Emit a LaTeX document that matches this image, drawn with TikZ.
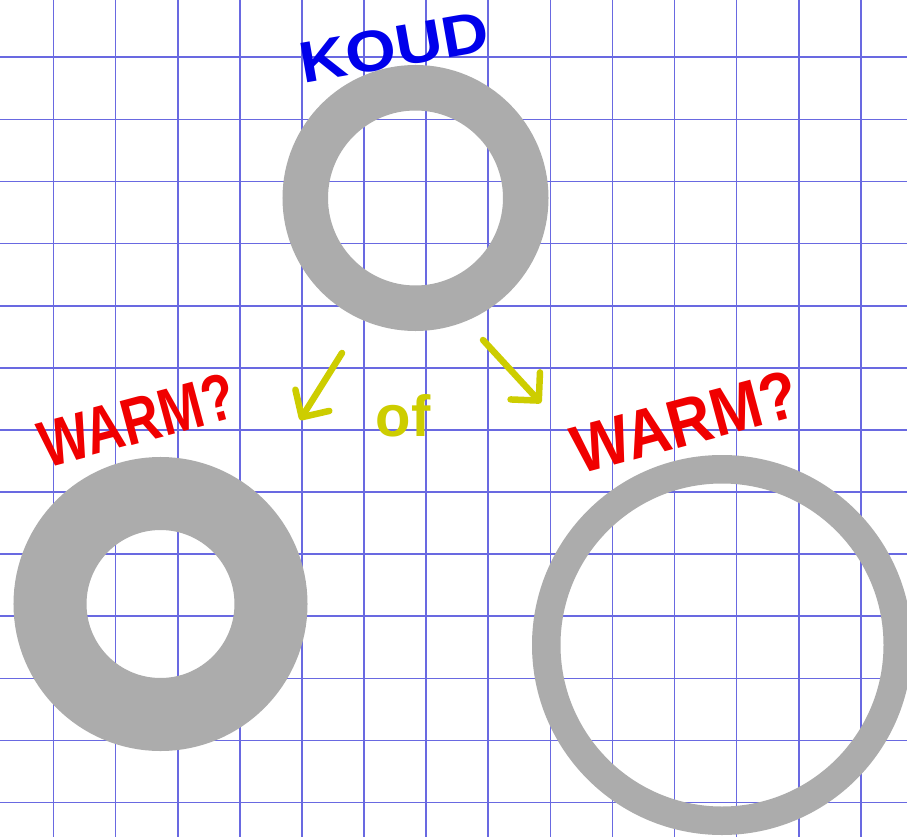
\documentclass[tikz,border=0pt]{standalone}
\usepackage{fontspec}
\setmainfont{Liberation Sans}
\usetikzlibrary{arrows.meta}
\definecolor{gridblue}{RGB}{105,105,225}
\definecolor{ringgray}{RGB}{172,172,172}
\definecolor{penyellow}{RGB}{205,205,0}
\definecolor{penred}{RGB}{240,0,0}
\definecolor{penblue}{RGB}{0,0,235}
\tikzset{
  gridline/.style={draw=gridblue, line width=1.6pt},
  ring/.style={circle, draw=ringgray, inner sep=0pt, outer sep=0pt},
  handtext/.style={font=\bfseries\fontsize{#1}{#1}\selectfont, inner sep=0pt},
  yarrow/.style={draw=penyellow, line width=6.5pt, line cap=round, line join=round,
    -{Straight Barb[length=20pt, width=40pt, line cap=round, line join=round]}},
}
\begin{document}
\begin{tikzpicture}[x=1pt, y=-1pt]
\useasboundingbox (0,0) rectangle (907,837);
\fill[white] (0,0) rectangle (907,837);
% grid
\foreach \i in {0,...,13} {
  \draw[gridline] (53.5+62.1*\i,0) -- (53.5+62.1*\i,837);
}
\foreach \j in {0,...,12} {
  \draw[gridline] (0,57.3+62.1*\j) -- (907,57.3+62.1*\j);
}
% rings
\node[ring, minimum size=220.5pt, line width=45.5pt] (cold) at (415.5,198) {};
\node[ring, minimum size=221pt, line width=73pt] (warmA) at (160.5,604) {};
\node[ring, minimum size=351.5pt, line width=28.5pt] (warmB) at (722,645) {};
% labels
\node[handtext=58, text=penblue, rotate=10] (koud) at (394,47) {\scalebox{1.12}[1]{KOUD}};
\node[handtext=66, text=penred, rotate=15] (warmAlabel) at (137,420) {\scalebox{0.8}[1]{WARM?}};
\node[handtext=68, text=penred, rotate=15] (warmBlabel) at (685,422) {\scalebox{0.9}[1]{WARM?}};
\node[handtext=58, text=penyellow, anchor=base] (of) at (403,436) {of};
% arrows
\coordinate (la) at (342,353);
\coordinate (lb) at (300,420);
\coordinate (ra) at (483,340);
\coordinate (rb) at (541,403);
\draw[yarrow] (la) -- (lb);
\draw[yarrow] (ra) -- (rb);
\end{tikzpicture}
\end{document}
